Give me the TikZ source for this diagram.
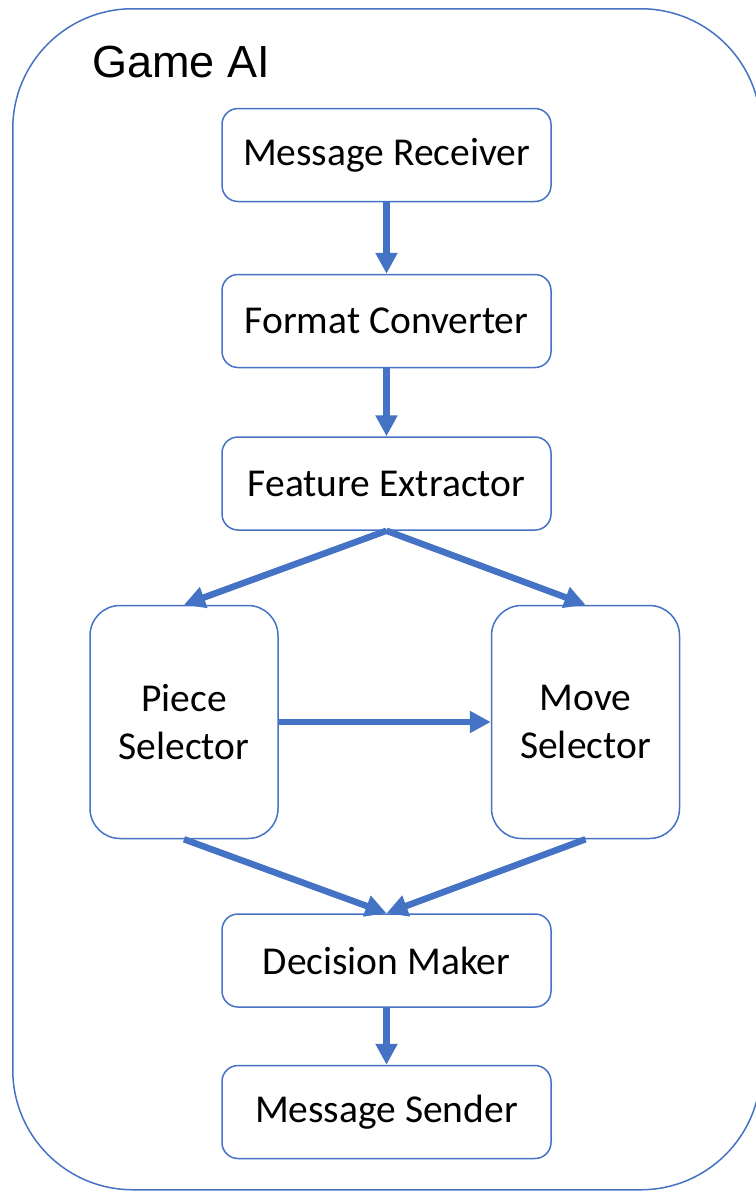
\documentclass[tikz,border=0pt]{standalone}
\usepackage{fontspec}
\setmainfont{Carlito}
\newfontfamily\titlefont{Liberation Sans}
\usetikzlibrary{arrows.meta}
\definecolor{accent}{HTML}{4472C4}
\tikzset{
  box/.style={draw=accent, line width=1.5pt, rounded corners=16pt, minimum width=329pt, minimum height=93pt, inner sep=0pt, font=\fontsize{39.5}{48}\selectfont},
  bigbox/.style={draw=accent, line width=1.5pt, rounded corners=30pt, minimum width=188pt, minimum height=233pt, inner sep=0pt, align=center, font=\fontsize{39.5}{48}\selectfont},
  flow/.style={draw=accent, line width=6.5pt, -{Triangle[length=21pt,width=21pt]}},
}
\begin{document}
\begin{tikzpicture}[x=1pt,y=-1pt]
\useasboundingbox (0,0) rectangle (755,1191);
\node[draw=accent, line width=1.5pt, rounded corners=120pt, minimum width=748pt, minimum height=1181pt, anchor=north west, inner sep=0pt] (frame) at (12,8) {};
\node[anchor=base west, inner sep=0pt, font=\titlefont\fontsize{45}{52}\selectfont] (title) at (92,77) {Game AI};
\node[box] (mr) at (386.5,155) {Message Receiver};
\node[box] (fc) at (386.5,321) {Format Converter};
\node[box] (fe) at (386.5,483.5) {Feature Extractor};
\node[bigbox] (ps) at (184,722) {Piece\\Selector};
\node[bigbox] (ms) at (585.5,722) {Move\\Selector};
\node[box] (dm) at (386.5,960.5) {Decision Maker};
\node[box] (snd) at (386.5,1112) {Message Sender};
\draw[flow] (mr.south) -- (fc.north);
\draw[flow] (fc.south) -- (fe.north);
\draw[flow] (fe.south) -- (ps.north);
\draw[flow] (fe.south) -- (ms.north);
\draw[flow] (ps.east) -- (ms.west);
\draw[flow] (ps.south) -- (dm.north);
\draw[flow] (ms.south) -- (dm.north);
\draw[flow] (dm.south) -- (snd.north);
\end{tikzpicture}
\end{document}
